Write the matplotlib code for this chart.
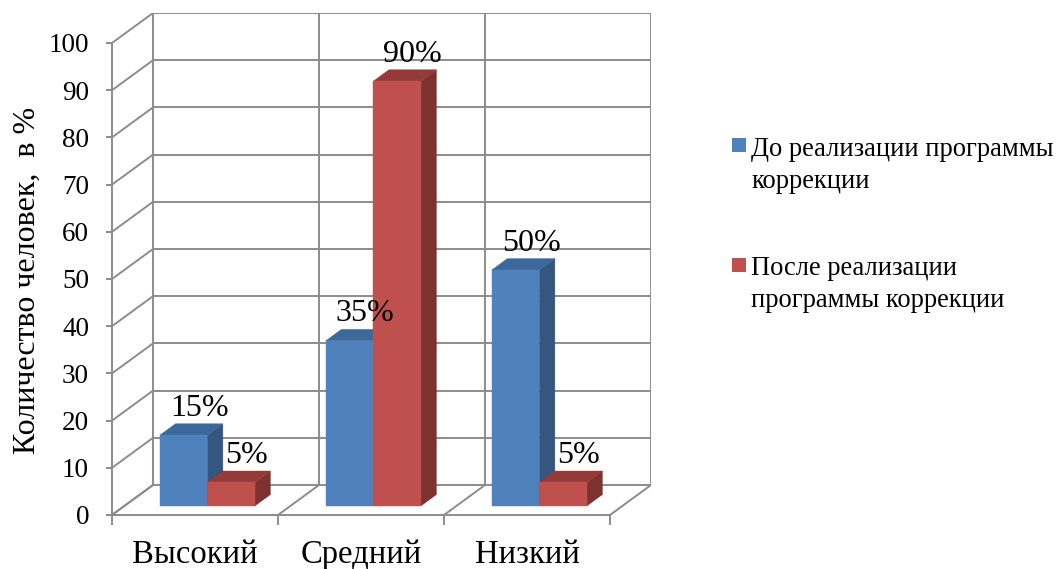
import matplotlib
matplotlib.use("Agg")
import matplotlib.pyplot as plt
from matplotlib.patches import Polygon, Rectangle

# ---- data ----
categories = ["Высокий", "Средний", "Низкий"]
series_names = ["До реализации программы\nкоррекции",
                "После реализации\nпрограммы коррекции"]
before = [15, 35, 50]
after = [5, 90, 5]
value_labels_before = ["15%", "35%", "50%"]
value_labels_after = ["5%", "90%", "5%"]
yticks = list(range(0, 101, 10))
ylabel = "Количество человек,  в %"

# ---- style ----
FONT = ["Liberation Serif", "DejaVu Serif"]
plt.rcParams["font.family"] = FONT
front_cols = ["#4F81BD", "#C0504D"]
top_cols = ["#3D689B", "#943B39"]
side_cols = ["#34567F", "#7D3230"]
grid_col = "#8C8C8C"

W, H = 1056, 569
fig = plt.figure(figsize=(W / 100, H / 100), dpi=100)

# pixel geometry of the 3D box
x0p, x3p = 112, 610          # front floor edge
y0p, y100p = 515, 43         # front axis 0 and 100
dxp, dyp = 41, 30            # oblique depth offset
cat_px = (x3p - x0p) / 3
unit_px = (y0p - y100p) / 100
DX = dxp / cat_px            # depth offset in category units
DY = dyp / unit_px           # depth offset in value units

ax = fig.add_axes([x0p / W, (H - y0p) / H, (x3p + dxp - x0p) / W, (y0p - (y100p - dyp)) / H])
ax.set_xlim(0, 3 + DX)
ax.set_ylim(0, 100 + DY)
ax.patch.set_visible(False)

lw = 1.4
# back wall horizontal gridlines and side-wall diagonals
for v in yticks:
    ax.plot([DX, 3 + DX], [v + DY, v + DY], color=grid_col, lw=lw, zorder=1, solid_capstyle="butt")
    ax.plot([0, DX], [v, v + DY], color=grid_col, lw=lw, zorder=1)
# back wall verticals and floor diagonals
for i in range(4):
    ax.plot([i + DX, i + DX], [DY, 100 + DY], color=grid_col, lw=lw, zorder=1)
    ax.plot([i, i + DX], [0, DY], color=grid_col, lw=lw, zorder=1)

# bars
bar_w = 47.5 / cat_px
t0, t1 = 0.30, 0.68


def P(x, v, t):
    return (x + t * DX, v + t * DY)


z = 3
for i in range(3):
    for s, vals in enumerate([before, after]):
        v = vals[i]
        xa = i + 0.5 - bar_w + s * bar_w
        xb = xa + bar_w
        front = [P(xa, 0, t0), P(xb, 0, t0), P(xb, v, t0), P(xa, v, t0)]
        top = [P(xa, v, t0), P(xb, v, t0), P(xb, v, t1), P(xa, v, t1)]
        side = [P(xb, 0, t0), P(xb, 0, t1), P(xb, v, t1), P(xb, v, t0)]
        for poly, c in ((side, side_cols[s]), (top, top_cols[s]), (front, front_cols[s])):
            ax.add_patch(Polygon(poly, closed=True, facecolor=c, edgecolor=c, lw=0.3, zorder=z))
        z += 1
        lab = (value_labels_before if s == 0 else value_labels_after)[i]
        cx, cy = P((xa + xb) / 2, v, t1)
        ax.text(cx, cy + 1.7, lab, ha="center", va="baseline", fontsize=23, zorder=20)

# axes, ticks
for sp in ("top", "right"):
    ax.spines[sp].set_visible(False)
ax.spines["left"].set_bounds(0, 100)
ax.spines["bottom"].set_bounds(0, 3)
for sp in ("left", "bottom"):
    ax.spines[sp].set_color(grid_col)
    ax.spines[sp].set_linewidth(lw)
ax.set_yticks(yticks)
ax.set_yticklabels([str(t) for t in yticks])
ax.tick_params(axis="y", direction="out", length=4.5, width=lw, color=grid_col,
               labelsize=19.5, pad=12)
ax.set_xticks([0, 1, 2, 3])
ax.set_xticklabels([])
ax.tick_params(axis="x", which="major", direction="out", length=7, width=lw, color=grid_col)
ax.set_xticks([0.5, 1.5, 2.5], minor=True)
ax.set_xticklabels(categories, minor=True)
ax.tick_params(axis="x", which="minor", length=0, labelsize=23.5, pad=17.5)

fig.text(27 / W, 1 - 280 / H, ylabel, rotation=90, ha="center", va="center", fontsize=23)

# legend (square aligned with the first line of each entry)
leg_sq_x, leg_sq = 732, 14
leg_tops = [138, 258]
leg_base = [156, 275]
for k, name in enumerate(series_names):
    fig.add_artist(Rectangle((leg_sq_x / W, 1 - (leg_tops[k] + leg_sq) / H), leg_sq / W, leg_sq / H,
                             transform=fig.transFigure, facecolor=front_cols[k],
                             edgecolor=front_cols[k], lw=0))
    for j, line in enumerate(name.split("\n")):
        fig.text(751 / W, 1 - (leg_base[k] + 32 * j) / H, line, ha="left", va="baseline",
                 fontsize=19.1)

fig.savefig("out.png", dpi=100)
